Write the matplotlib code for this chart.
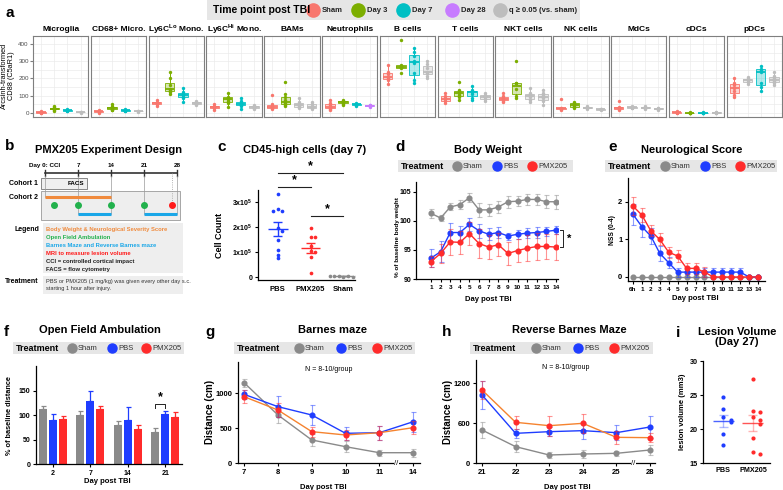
import numpy as np
import matplotlib
matplotlib.use("Agg")
import matplotlib.pyplot as plt
from matplotlib.patches import Rectangle
from matplotlib.colors import to_rgba

plt.rcParams.update({
    "font.family": "Liberation Sans",
    "mathtext.fontset": "custom",
    "mathtext.rm": "Liberation Sans",
    "mathtext.bf": "Liberation Sans:bold",
    "axes.linewidth": 0.9,
})

W, H = 783, 490
SHAM, PBS, PMX = "#8a8a8a", "#1f3dff", "#ff2b2b"
PMX_LINE = "#f5832f"
A_COL = {"sham": "#F8766D", "d3": "#7CAE00", "d7": "#00BFC4",
         "d28": "#C77CFF", "ns": "#BDBDBD"}

# ---------------- panel a: CD88 per cell type ----------------
a_facets = ["Microglia", "CD68+ Micro.", r"Ly6C$^{\mathbf{Lo}}$ Mono.",
            r"Ly6C$^{\mathbf{Hi}}$ Mono.", "BAMs", "Neutrophils", "B cells",
            "T cells", "NKT cells", "NK cells", "MdCs", "cDCs", "pDCs"]
# each facet: Sham, Day 3, Day 7, Day 28
microglia = [[0, 3, 5, 7, 9], [14, 20, 24, 28, 33, 40], [11, 14, 16, 18, 21], [2, 4, 6, 8]]
cd68_micro = [[0, 5, 10, 14, 20], [15, 20, 25, 30, 38, 50], [10, 13, 16, 19, 22], [8, 10, 12, 14]]
ly6c_lo = [[40, 50, 55, 60, 66, 74], [112, 120, 128, 135, 140, 165, 200, 240],
           [63, 85, 95, 103, 110, 120, 143], [45, 55, 60, 65, 72]]
ly6c_hi = [[17, 28, 34, 40, 51], [34, 57, 70, 80, 85, 95, 114],
           [23, 40, 48, 51, 58, 70, 86], [22, 30, 34, 40, 46]]
bams = [[25, 30, 34, 40, 50, 103], [40, 48, 55, 57, 75, 91, 109, 177],
        [29, 35, 40, 48, 63, 86], [25, 30, 34, 40, 55, 63]]
neutrophils = [[17, 25, 30, 34, 45, 60, 74], [46, 55, 60, 63, 68, 74],
               [40, 46, 51, 55, 60], [35, 38, 40, 44, 47]]
b_cells = [[170, 190, 205, 211, 225, 240, 280], [234, 260, 265, 270, 280, 423],
           [171, 194, 229, 290, 303, 331, 354, 377], [200, 217, 230, 240, 260, 286, 300]]
t_cells = [[57, 70, 80, 86, 100, 114], [74, 91, 105, 114, 125, 131, 177],
           [74, 86, 110, 120, 128, 131, 154], [70, 80, 90, 97, 105, 114]]
nkt_cells = [[63, 72, 80, 86, 98, 114], [86, 100, 140, 171, 172, 303],
             [63, 74, 90, 97, 110, 114, 143], [46, 70, 86, 91, 105, 114, 131]]
nk_cells = [[20, 25, 29, 32, 80], [29, 35, 40, 50, 57, 65], [26, 30, 34, 38], [18, 21, 23, 26]]
mdcs = [[20, 25, 29, 34, 69], [28, 31, 34, 37, 41], [25, 28, 31, 34, 38], [20, 23, 25, 28, 30]]
cdcs = [[1, 3, 5, 7, 10], [0, 1, 2, 3, 4], [0, 1, 2, 3, 4], [1, 2, 3, 4, 6]]
pdcs = [[91, 103, 125, 143, 160, 171, 200], [170, 180, 190, 194, 200, 210],
        [126, 150, 171, 240, 250, 257, 270], [160, 175, 185, 189, 200, 215, 240]]
a_values = [microglia, cd68_micro, ly6c_lo, ly6c_hi, bams, neutrophils, b_cells,
            t_cells, nkt_cells, nk_cells, mdcs, cdcs, pdcs]
# q < 0.05 vs sham for Day 3, Day 7, Day 28
a_signif = [[1, 1, 0], [1, 1, 0], [1, 1, 0], [1, 1, 0], [1, 0, 0], [1, 1, 1], [1, 1, 0],
            [1, 1, 0], [1, 0, 0], [1, 0, 0], [0, 0, 0], [1, 1, 0], [0, 1, 0]]

# ---------------- panel b: design ----------------
b_days = [0, 7, 14, 21, 28]
b_day_labels = ["Day 0: CCI", "7", "14", "21", "28"]
b_weight_span = (0, 14)
b_maze_spans = [(7, 14), (21, 28)]
b_ofa_days = [2, 7, 14, 21]
b_mri_day = 27

# ---------------- panel c ----------------
c_groups = ["PBS", "PMX205", "Sham"]
c_pbs = [3.3e5, 2.7e5, 2.65e5, 2.65e5, 1.95e5, 1.85e5, 1.5e5, 1.1e5, 0.9e5, 0.75e5]
c_pmx = [1.95e5, 1.6e5, 1.6e5, 1.25e5, 1.05e5, 1.0e5, 0.8e5, 0.15e5]
c_sham = [0.02e5, 0.03e5, 0.04e5, 0.02e5, 0.03e5, 0.05e5, 0.04e5, 0.03e5]

# ---------------- panel d: body weight ----------------
d_days = list(range(1, 15))
d_sham = [101.3, 100.5, 102.4, 102.8, 104.0, 101.9, 101.9, 102.4, 103.3, 103.4, 103.7, 103.7, 103.3, 103.3]
d_sham_err = [0.8, 0.6, 0.6, 0.8, 0.8, 1.2, 1.0, 1.0, 1.0, 0.9, 1.0, 0.9, 1.1, 1.2]
d_pbs = [93.6, 94.7, 98.0, 98.0, 99.4, 98.3, 97.7, 98.0, 97.4, 97.7, 97.9, 98.0, 98.2, 98.4]
d_pbs_err = [1.5, 1.8, 1.7, 1.2, 1.1, 1.2, 1.0, 0.9, 0.6, 0.8, 0.8, 0.9, 0.8, 0.7]
d_pmx = [93.0, 94.4, 96.4, 96.3, 97.8, 96.1, 95.5, 95.9, 94.4, 94.9, 95.3, 95.6, 95.6, 95.5]
d_pmx_err = [1.0, 1.6, 2.2, 2.0, 2.0, 2.5, 2.0, 2.0, 2.0, 2.0, 2.2, 2.3, 2.2, 2.2]

# ---------------- panel e: NSS ----------------
e_labels = ["6h"] + [str(i) for i in range(1, 15)]
e_sham = [0] * 15
e_pbs = [1.67, 1.34, 1.09, 0.63, 0.38, 0.13, 0.13, 0.13, 0.13, 0.13, 0.13, 0.13, 0.13, 0, 0]
e_pbs_err = [0.28, 0.28, 0.22, 0.2, 0.15, 0.12, 0.12, 0.12, 0.12, 0.12, 0.12, 0.12, 0.12, 0, 0]
e_pmx = [1.89, 1.65, 1.23, 1.0, 0.66, 0.56, 0.23, 0.23, 0.13, 0, 0, 0, 0, 0, 0]
e_pmx_err = [0.25, 0.18, 0.15, 0.16, 0.15, 0.17, 0.15, 0.14, 0.13, 0, 0, 0, 0, 0, 0]

# ---------------- panel f: open field ----------------
f_days = ["2", "7", "14", "21"]
f_sham = [112, 100, 80, 65]
f_sham_err = [7, 8, 9, 9]
f_pbs = [90, 130, 90, 102]
f_pbs_err = [12, 20, 26, 7]
f_pmx = [92, 113, 72, 97]
f_pmx_err = [6, 5, 9, 10]

# ---------------- panel g: Barnes maze ----------------
g_days = ["7", "8", "9", "10", "11", "14"]
g_sham = [1147, 686, 329, 233, 147, 147]
g_sham_err = [60, 120, 90, 80, 40, 60]
g_pbs = [981, 805, 686, 424, 433, 590]
g_pbs_err = [60, 150, 140, 90, 100, 140]
g_pmx = [948, 757, 448, 400, 433, 505]
g_pmx_err = [90, 100, 70, 70, 100, 90]

# ---------------- panel h: reverse Barnes maze ----------------
h_days = ["21", "22", "23", "24", "25", "28"]
h_sham = [495, 245, 120, 135, 145, 195]
h_sham_err = [120, 80, 50, 60, 40, 70]
h_pbs = [1020, 445, 470, 485, 455, 540]
h_pbs_err = [210, 70, 70, 120, 110, 170]
h_pmx = [1095, 610, 560, 595, 385, 380]
h_pmx_err = [130, 100, 150, 140, 100, 70]

# ---------------- panel i: lesion volume ----------------
i_groups = ["PBS", "PMX205"]
i_pbs = [24.7, 22.9, 21.7, 21.3, 21.0, 19.2, 17.7]
i_pmx = [27.3, 22.6, 22.5, 21.8, 21.3, 20.8, 18.7, 16.6, 16.3]


def rect(l, t, r, b):
    return [l / W, 1 - b / H, (r - l) / W, (b - t) / H]


def prism(ax, fs=4.8):
    for s in ("top", "right"):
        ax.spines[s].set_visible(False)
    ax.tick_params(length=2.5, width=0.8, pad=1.5, labelsize=fs)
    for lab in ax.get_xticklabels() + ax.get_yticklabels():
        lab.set_fontweight("bold")


def err_line(ax, x, y, e, c, lc=None, ms=3.4):
    ax.errorbar(x, y, yerr=e, fmt="none", ecolor=c, alpha=0.5,
                elinewidth=0.8, capsize=1.8, capthick=0.8)
    ax.plot(x, y, color=lc or c, lw=1, marker="o", ms=ms, mfc=c, mec=c)


def swarm(vals, tol, step):
    offs, placed = [], []
    for v in vals:
        n = sum(abs(v - p) < tol for p in placed)
        offs.append(0 if n == 0 else ((n + 1) // 2) * step * (1 if n % 2 else -1))
        placed.append(v)
    return np.array(offs)


fig = plt.figure(figsize=(W / 100, H / 100), dpi=100)
ov = fig.add_axes([0, 0, 1, 1], zorder=10)
ov.set_xlim(0, W)
ov.set_ylim(H, 0)
ov.axis("off")


def T(x, y, s, fs=6, bold=False, **kw):
    kw.setdefault("ha", "center")
    kw.setdefault("va", "center")
    ov.text(x, y, s, fontsize=fs, fontweight="bold" if bold else "normal", **kw)


def trt_legend(x0, x1, y, items):
    ov.add_patch(Rectangle((x0, y - 6), x1 - x0, 12, color="#e6e6e6", lw=0))
    T(x0 + 3, y, "Treatment", 6.5, True, ha="left")
    for xc, lab, c in items:
        ov.plot(xc, y, "o", ms=6.5, color=c)
        T(xc + 6, y, lab, 5.5, ha="left", color="#333333")


# letters
for lx, ly, lab in [(10, 13, "a"), (10, 146, "b"), (222, 147, "c"), (400, 147, "d"),
                    (613, 147, "e"), (6, 332, "f"), (210, 332, "g"), (447, 332, "h"),
                    (678, 333, "i")]:
    T(lx, ly, lab, 11, True)

# ---------- a ----------
ov.add_patch(Rectangle((207, 0), 373, 20, color="#e6e6e6", lw=0))
T(213, 10, "Time point post TBI", 7.5, True, ha="left")
for xc, lab, key in [(313, "Sham", "sham"), (358, "Day 3", "d3"), (403, "Day 7", "d7"),
                     (452, "Day 28", "d28"), (500, "q \u2265 0.05 (vs. sham)", "ns")]:
    ov.plot(xc, 10, "o", ms=9.5, color=A_COL[key])
    T(xc + 9, 10, lab, 5.5, True, ha="left", color="#222222")
T(8, 76, "Arcsinh-transformed\nCD88 (C5aR1)", 5.3, rotation=90, linespacing=1.0)

a_left, a_right, a_top, a_bot = 33, 782, 36, 117
gap = 2.3
fw = (a_right - a_left - gap * 12) / 13
for i, (name, vals, sig) in enumerate(zip(a_facets, a_values, a_signif)):
    l = a_left + i * (fw + gap)
    ax = fig.add_axes(rect(l, a_top, l + fw, a_bot))
    cols = [A_COL["sham"]] + [A_COL[k] if s else A_COL["ns"]
                              for k, s in zip(["d3", "d7", "d28"], sig)]
    bp = ax.boxplot(vals, positions=[1, 2, 3, 4], widths=0.7, patch_artist=True,
                    showfliers=False, whis=1.5, capprops=dict(lw=0),
                    boxprops=dict(lw=0.6), whiskerprops=dict(lw=0.7),
                    medianprops=dict(lw=1.3))
    for j, c in enumerate(cols):
        bp["boxes"][j].set(facecolor=to_rgba(c, 0.3), edgecolor=c)
        bp["whiskers"][2 * j].set_color(c)
        bp["whiskers"][2 * j + 1].set_color(c)
        bp["medians"][j].set_color(c)
        ax.scatter(np.full(len(vals[j]), j + 1), vals[j], s=6, color=c, lw=0, zorder=3)
    ax.set_xlim(0.4, 4.6)
    ax.set_ylim(-23, 446)
    ax.set_xticks([1, 2, 3, 4])
    ax.set_xticklabels([])
    ax.set_yticks([0, 100, 200, 300, 400])
    ax.set_yticks([50, 150, 250, 350], minor=True)
    ax.grid(True, which="both", color="#ebebeb", lw=0.5)
    ax.set_axisbelow(True)
    for s in ax.spines.values():
        s.set_color("#7f7f7f")
        s.set_linewidth(0.8)
    ax.tick_params(axis="x", length=0)
    ax.tick_params(axis="y", which="minor", length=0)
    if i == 0:
        ax.tick_params(axis="y", length=2, color="#7f7f7f", labelsize=4.5,
                       labelcolor="#4d4d4d", pad=1)
    else:
        ax.tick_params(axis="y", length=0, labelleft=False)
    ax.set_title(name, fontsize=6, fontweight="bold", pad=3.5)

# ---------- b ----------
dx = lambda d: 45 + d * 132 / 28
T(109, 150, "PMX205 Experiment Design", 8, True)
ov.add_patch(Rectangle((41, 178), 46, 11, fc="#efefef", ec="#777777", lw=0.6, zorder=1))
ov.add_patch(Rectangle((41, 191), 139, 29, fc="#eeeeee", ec="#999999", lw=0.6, zorder=1))
ov.plot([dx(b_days[0]), dx(b_days[-1])], [173, 173], color="#333333", lw=1.2)
for d, lab in zip(b_days, b_day_labels):
    ov.plot([dx(d)] * 2, [170, 176], color="#333333", lw=1)
    T(dx(d), 165, lab, 4.5, True)
    ov.plot([dx(d)] * 2, [176, 197 if d == 0 else 214], color="#9a9a9a", lw=0.5, zorder=2)
ov.plot([dx(b_mri_day)] * 2, [173, 205], color="#9a9a9a", lw=0.6, ls=":", zorder=2)
ov.plot([dx(b_weight_span[0]), dx(b_weight_span[1])], [197, 197], color="#f08a3c", lw=2.2,
        solid_capstyle="butt", zorder=3)
for a0, a1 in b_maze_spans:
    ov.plot([dx(a0), dx(a1)], [214, 214], color="#1aa7e8", lw=2.2, solid_capstyle="butt", zorder=3)
ov.plot([dx(d) for d in b_ofa_days], [205] * len(b_ofa_days), "o", color="#22b14c", ms=4, zorder=3)
ov.plot(dx(b_mri_day), 205, "o", color="#ff1a1a", ms=4, zorder=3)
T(38, 183, "Cohort 1", 5, True, ha="right")
T(38, 197, "Cohort 2", 5, True, ha="right")
T(76, 183.5, "FACS", 4.5, True)
ov.add_patch(Rectangle((43, 223), 140, 50, fc="#eeeeee", lw=0))
ov.add_patch(Rectangle((43, 276), 140, 18, fc="#eeeeee", lw=0))
T(39, 229, "Legend", 5, True, ha="right")
T(39, 281, "Treatment", 5, True, ha="right")
for k, (lab, c) in enumerate([("Body Weight & Neurological Severity Score", "#f08a3c"),
                              ("Open Field Ambulation", "#22b14c"),
                              ("Barnes Maze and Reverse Barnes maze", "#1aa7e8"),
                              ("MRI to measure lesion volume", "#ff1a1a"),
                              ("CCI = controlled cortical impact", "#222222"),
                              ("FACS = flow cytometry", "#222222")]):
    T(46, 229 + k * 8.1, lab, 4.2, True, ha="left", color=c)
T(46, 285, "PBS or PMX205 (1 mg/kg) was given every other day s.c.\nstarting 1 hour after injury.",
  4.1, ha="left", color="#333333", linespacing=1.3)

# ---------- c ----------
T(305, 150, "CD45-high cells (day 7)", 8, True)
ax = fig.add_axes(rect(258, 190, 355, 280))
for k, (vals, c) in enumerate(zip([c_pbs, c_pmx, c_sham], [PBS, PMX, SHAM])):
    v = np.array(vals)
    ax.scatter(k + swarm(v, 0.12e5, 0.14), v, s=7, color=c, lw=0, zorder=3)
    m, se = v.mean(), v.std(ddof=1) / np.sqrt(len(v))
    ax.hlines(m, k - 0.3, k + 0.3, color=c, lw=1)
    ax.hlines([m - se, m + se], k - 0.13, k + 0.13, color=c, lw=1)
    ax.vlines(k, m - se, m + se, color=c, lw=1)
ax.set_xlim(-0.6, 2.35)
ax.set_ylim(-0.12e5, 3.48e5)
ax.set_yticks([0, 1e5, 2e5, 3e5])
ax.set_yticklabels(["0", r"1x10$^{\mathbf{5}}$", r"2x10$^{\mathbf{5}}$", r"3x10$^{\mathbf{5}}$"])
ax.set_xticks([0, 1, 2])
ax.set_xticklabels(c_groups)
prism(ax, 5.5)
ax.tick_params(axis="y", labelsize=5)
ax.tick_params(axis="x", length=0, pad=4)
for y0, a0, a1 in [(4.16e5, 0, 2), (3.6e5, 0, 1), (2.44e5, 1, 2)]:
    ax.plot([a0, a1], [y0, y0], color="#222222", lw=0.8, clip_on=False)
    ax.text((a0 + a1) / 2, y0 + 0.02e5, "*", ha="center", va="bottom", fontsize=9,
            fontweight="bold")
T(219, 235, "Cell Count", 6.5, True, rotation=90)

# ---------- d ----------
T(488, 150, "Body Weight", 8, True)
trt_legend(398, 573, 166, [(457, "Sham", SHAM), (497, "PBS", PBS), (532, "PMX205", PMX)])
ax = fig.add_axes(rect(416, 182, 558, 279))
err_line(ax, d_days, d_sham, d_sham_err, SHAM)
err_line(ax, d_days, d_pbs, d_pbs_err, PBS)
err_line(ax, d_days, d_pmx, d_pmx_err, PMX)
ax.set_xlim(-0.56, 14.2)
ax.set_ylim(90, 106.7)
ax.set_xticks(d_days)
ax.set_yticks([90, 95, 100, 105])
prism(ax, 4.6)
ax.tick_params(axis="y", labelsize=5, pad=1)
bx = 14.75
ax.plot([bx - 0.3, bx, bx, bx - 0.3], [d_pbs[-1], d_pbs[-1], d_pmx[-1], d_pmx[-1]],
        color="#222222", lw=0.7, clip_on=False)
ax.text(bx + 0.35, (d_pbs[-1] + d_pmx[-1]) / 2, "*", ha="left", va="center",
        fontsize=8, fontweight="bold", clip_on=False)
T(398, 237, "% of baseline body weight", 4.6, True, rotation=90)
T(488, 299, "Day post TBI", 5.5, True)

# ---------- e ----------
T(692, 150, "Neurological Score", 8, True)
trt_legend(605, 777, 166, [(665, "Sham", SHAM), (705, "PBS", PBS), (740, "PMX205", PMX)])
ax = fig.add_axes(rect(628, 178, 765, 281))
ex = np.arange(len(e_labels))
ax.plot(ex, e_sham, color=SHAM, lw=1, marker="o", ms=3.4)
err_line(ax, ex, e_pbs, e_pbs_err, PBS)
err_line(ax, ex, e_pmx, e_pmx_err, PMX)
ax.set_xlim(-0.56, 14.78)
ax.set_ylim(-0.107, 2.64)
ax.set_xticks(ex)
ax.set_xticklabels(e_labels)
ax.set_yticks([0, 1, 2])
prism(ax, 4.6)
ax.tick_params(axis="y", labelsize=5.5)
T(613, 230, "NSS (0-4)", 4.8, True, rotation=90)
T(695, 298, "Day post TBI", 5.5, True)

# ---------- f ----------
T(100, 330, "Open Field Ambulation", 8, True)
trt_legend(13, 184, 348, [(72, "Sham", SHAM), (112, "PBS", PBS), (146, "PMX205", PMX)])
ax = fig.add_axes(rect(36, 366, 182, 464))
fx = np.arange(len(f_days))
for off, vals, errs, c in [(-0.265, f_sham, f_sham_err, SHAM), (0, f_pbs, f_pbs_err, PBS),
                           (0.265, f_pmx, f_pmx_err, PMX)]:
    ax.bar(fx + off, vals, width=0.21, color=c, lw=0)
    ax.errorbar(fx + off, vals, yerr=[np.zeros(len(vals)), errs], fmt="none", ecolor=c,
                elinewidth=0.9, capsize=1.8, capthick=0.9)
ax.set_xlim(-0.45, 3.45)
ax.set_ylim(0, 201)
ax.set_xticks(fx)
ax.set_xticklabels(f_days)
ax.set_yticks([0, 50, 100, 150])
prism(ax, 5)
top = max(f_sham[3] + f_sham_err[3], f_pbs[3] + f_pbs_err[3]) + 14
ax.plot([3 - 0.265, 3 - 0.265, 3, 3], [top - 8, top, top, top - 8], color="#222222", lw=0.7)
ax.text(3 - 0.13, top + 2, "*", ha="center", va="bottom", fontsize=9, fontweight="bold")
T(10, 415, "% of baseline distance", 5.3, True, rotation=90)
T(107, 481, "Day post TBI", 5.5, True)

# ---------- g ----------
T(333, 330, "Barnes maze", 8, True)
trt_legend(234, 415, 348, [(299, "Sham", SHAM), (341, "PBS", PBS), (377, "PMX205", PMX)])
ax = fig.add_axes(rect(238, 362, 420, 463))
gx = np.arange(len(g_days))
err_line(ax, gx, g_sham, g_sham_err, SHAM)
err_line(ax, gx, g_pbs, g_pbs_err, PBS)
err_line(ax, gx, g_pmx, g_pmx_err, PMX, lc=PMX_LINE)
ax.set_xlim(-0.18, 5.2)
ax.set_ylim(0, 1443)
ax.set_xticks(gx)
ax.set_xticklabels(g_days)
ax.set_yticks([0, 500, 1000])
prism(ax, 5.5)
ax.text(4.5, 0, "//", ha="center", va="center", fontsize=5.5, clip_on=False,
        bbox=dict(fc="white", ec="none", pad=0.2))
ax.text(0.5, 0.93, "N = 8-10/group", transform=ax.transAxes, ha="center", va="center",
        fontsize=5)
T(210, 412, "Distance (cm)", 7, True, rotation=90)
T(323, 487, "Day post TBI", 5.5, True)

# ---------- h ----------
T(569, 330, "Reverse Barnes Maze", 8, True)
trt_legend(470, 653, 348, [(536, "Sham", SHAM), (578, "PBS", PBS), (614, "PMX205", PMX)])
ax = fig.add_axes(rect(476, 360, 655, 463))
hx = np.arange(len(h_days))
err_line(ax, hx, h_sham, h_sham_err, SHAM)
err_line(ax, hx, h_pbs, h_pbs_err, PBS)
err_line(ax, hx, h_pmx, h_pmx_err, PMX, lc=PMX_LINE)
ax.set_xlim(-0.18, 5.15)
ax.set_ylim(0, 1545)
ax.set_xticks(hx)
ax.set_xticklabels(h_days)
ax.set_yticks([0, 600, 1200])
prism(ax, 5.5)
ax.text(4.5, 0, "//", ha="center", va="center", fontsize=5.5, clip_on=False,
        bbox=dict(fc="white", ec="none", pad=0.2))
ax.text(0.5, 0.93, "N = 8-10/group", transform=ax.transAxes, ha="center", va="center",
        fontsize=5)
T(448, 412, "Distance (cm)", 7, True, rotation=90)
T(567, 487, "Day post TBI", 5.5, True)

# ---------- i ----------
T(737, 337, "Lesion Volume\n(Day 27)", 8, True, linespacing=1.1)
ax = fig.add_axes(rect(703, 361, 770, 463))
for k, (vals, c) in enumerate(zip([i_pbs, i_pmx], [PBS, PMX])):
    v = np.array(vals)
    m, se = v.mean(), v.std(ddof=1) / np.sqrt(len(v))
    ax.hlines(m, k - 0.35, k + 0.35, color=c, lw=1, alpha=0.8)
    ax.hlines([m - se, m + se], k - 0.15, k + 0.15, color=c, lw=1, alpha=0.35)
    ax.vlines(k, m - se, m + se, color=c, lw=1, alpha=0.35)
    ax.scatter(k + swarm(v, 0.6, 0.25), v, s=9, color=c, lw=0, zorder=3)
ax.set_xlim(-0.67, 1.57)
ax.set_ylim(15, 30)
ax.set_xticks([0, 1])
ax.set_xticklabels(i_groups)
ax.set_yticks([15, 20, 25, 30])
prism(ax, 5.2)
ax.tick_params(axis="x", length=0, pad=3)
T(683, 412, "lesion volume (mm3)", 5.5, True, rotation=90)

fig.savefig("out.png", dpi=100, facecolor="white")
